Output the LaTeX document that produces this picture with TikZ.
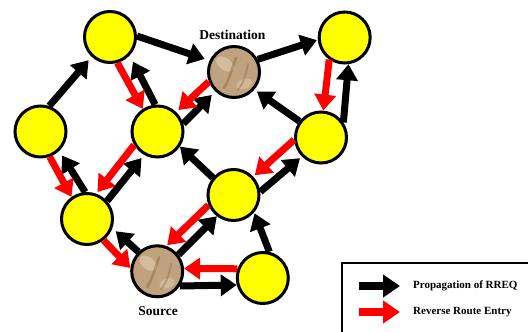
\documentclass[tikz,border=0pt]{standalone}
\usepackage{fontspec}
\setmainfont{Liberation Serif}
\usetikzlibrary{arrows.meta,calc}
\definecolor{stone}{RGB}{192,162,126}
\definecolor{stonedark}{RGB}{140,105,70}
\definecolor{stonelight}{RGB}{222,200,170}
\definecolor{nodeyellow}{RGB}{255,255,0}
\begin{document}
\begin{tikzpicture}[x=1pt,y=-1pt,
  nd/.style={circle,draw=black,line width=3pt,minimum size=51pt,inner sep=0pt,fill=nodeyellow},
  st/.style={nd,fill=stone,path picture={
    \fill[stonelight,opacity=.7] ([shift={(-9pt,8pt)}]path picture bounding box.center) ellipse [x radius=10pt, y radius=6pt, rotate=-35];
    \fill[stonelight,opacity=.6] ([shift={(10pt,-12pt)}]path picture bounding box.center) ellipse [x radius=8pt, y radius=5pt, rotate=20];
    \draw[stonedark,opacity=.5,line width=2.5pt,line cap=round]
      ([shift={(-10pt,-16pt)}]path picture bounding box.center) .. controls +(6pt,10pt) and +(-4pt,-10pt) .. ([shift={(2pt,14pt)}]path picture bounding box.center);
    \draw[stonedark,opacity=.4,line width=2pt,line cap=round]
      ([shift={(4pt,-18pt)}]path picture bounding box.center) .. controls +(6pt,8pt) and +(-2pt,-10pt) .. ([shift={(14pt,8pt)}]path picture bounding box.center);
  }},
  blk/.style={line width=7pt,color=black,-{Triangle[length=16pt,width=21pt]}},
  rd/.style={blk,color=red},
  legblk/.style={line width=8pt,color=black,-{Triangle[length=17pt,width=22pt]}},
  legrd/.style={legblk,color=red},
  lbl/.style={font=\bfseries\fontsize{13.5}{15}\selectfont,inner sep=0pt,anchor=base},
  leg/.style={font=\bfseries\fontsize{11}{13}\selectfont,inner sep=0pt,anchor=west}]
\useasboundingbox (0,0) rectangle (528,332);
\clip (0,0) rectangle (528,332);

% nodes
\node[nd] (A)  at (110,37) {};
\node[nd] (L)  at (40.5,131.5) {};
\node[nd] (M)  at (157.5,131.5) {};
\node[st] (D)  at (234,72) {};
\node[nd] (TR) at (344.7,37.5) {};
\node[nd] (R)  at (321,137.5) {};
\node[nd] (C)  at (233.5,195) {};
\node[nd] (LL) at (87,219) {};
\node[st] (S)  at (157.2,271.3) {};
\node[nd] (BR) at (262.8,278) {};

\node[lbl] (dlabel) at (232.5,39.3) {Destination};
\node[lbl] (slabel) at (158,315) {Source};

% propagation of RREQ
\draw[blk,shorten >=4.5pt] (L.71) -- (A.227);
\draw[blk,shorten >=5pt] (A.2) -- (D.155);
\draw[blk,shorten >=7pt] (M.95) -- (A.317);
\draw[blk,shorten >=5pt] (M.17) -- (D.226);
\draw[blk,shorten >=1pt] (D.28) -- (TR.185);
\draw[blk] (R.34.5) -- (TR.278);
\draw[blk,shorten >=3pt] (R.143) -- (D.319);
\draw[blk,shorten >=2.5pt] (C.7) -- (R.225);
\draw[blk] (C.140) -- (M.326);
\draw[blk,shorten >=1pt] (BR.76) -- (C.320);
\draw[blk,shorten >=5.5pt] (LL.94) -- (L.314);
\draw[blk,shorten >=4pt] (LL.42) -- (M.240);
\draw[blk,shorten >=4.5pt] (S.134) -- (LL.340);
\draw[blk] (S.38) -- (C.232);
\draw[blk] (S.327) -- (BR.195);

% reverse route entries
\draw[rd] (A.286) -- (M.123);
\draw[rd,shorten >=3pt] (D.201) -- (M.46);
\draw[rd] (TR.235) -- (R.85);
\draw[rd,shorten >=2pt] (R.185.5) -- (C.43);
\draw[rd] (L.290) -- (LL.125);
\draw[rd,shorten >=2pt] (M.210) -- (LL.70);
\draw[rd] (LL.308) -- (S.173.5);
\draw[rd,shorten >=1pt] (C.202) -- (S.70);
\draw[rd] (BR.160) -- (S.6);

% legend
\draw[line width=2pt] (341.7,345) -- (341.7,262.7) -- (545,262.7);
\coordinate (lb1) at (359,286);
\coordinate (lb2) at (400,286);
\coordinate (lr1) at (359,312);
\coordinate (lr2) at (400,312);
\draw[legblk] (lb1) -- (lb2);
\draw[legrd] (lr1) -- (lr2);
\node[leg] (t1) at (413,286) {Propagation of RREQ};
\node[leg] (t2) at (413,312) {Reverse Route Entry};
\end{tikzpicture}
\end{document}
